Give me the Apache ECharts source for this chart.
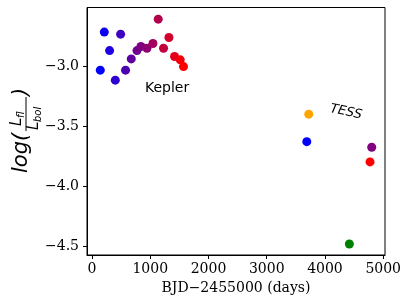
<!DOCTYPE html>
<html>
<head>
<meta charset="utf-8">
<script src="https://cdn.jsdelivr.net/npm/echarts@6/dist/echarts.min.js"></script>
<style>html,body{margin:0;padding:0;background:#fff}#c{width:407px;height:305px}</style>
</head>
<body>
<div id="c"></div>
<script>
// Kepler epochs (BJD-2455000) and log(Lfl/Lbol)
const keplerDays = [142, 211, 302, 400, 491, 576, 674, 772, 840, 943, 1046, 1137, 1228, 1321, 1417, 1515, 1571];
const keplerLog  = [-3.036, -2.719, -2.873, -3.119, -2.736, -3.036, -2.942, -2.873, -2.839, -2.853, -2.814, -2.611, -2.853, -2.764, -2.922, -2.950, -3.006];
// TESS points
const tessDays   = [3722, 3688, 4803, 4774, 4419];
const tessLog    = [-3.402, -3.631, -3.678, -3.800, -4.483];
const tessColors = ['#ffa500', '#0000ff', '#800080', '#ff0000', '#008000'];
const xTicks = [0, 1000, 2000, 3000, 4000, 5000];
const yTicks = [-4.5, -4.0, -3.5, -3.0];

const tmin = Math.min(...keplerDays), tmax = Math.max(...keplerDays);
function grad(t){
  const f = (t - tmin) / (tmax - tmin);
  const r = Math.round(255 * f), b = Math.round(255 * (1 - f));
  return 'rgb(' + r + ',0,' + b + ')';
}
const keplerData = keplerDays.map((d, i) => ({value: [d, keplerLog[i]], itemStyle: {color: grad(d)}}));
const tessData = tessDays.map((d, i) => ({value: [d, tessLog[i]], itemStyle: {color: tessColors[i]}}));

const chart = echarts.init(document.getElementById('c'), null, {renderer: 'canvas'});
const serif = 'DejaVu Serif';
const sans = 'DejaVu Sans';
chart.setOption({
  animation: false,
  grid: {left: 87, right: 22, top: 7.5, bottom: 50, show: true, borderColor: '#000', borderWidth: 1},
  xAxis: {
    type: 'value', min: -86, max: 5031,
    name: 'BJD\u22122455000 (days)', nameLocation: 'middle', nameGap: 24,
    nameTextStyle: {fontFamily: serif, fontSize: 14, color: '#000'},
    axisLine: {show: true, onZero: false, lineStyle: {color: '#000'}},
    axisTick: {show: true, length: 4, customValues: xTicks, lineStyle: {color: '#000'}},
    axisLabel: {customValues: xTicks, margin: 7, fontFamily: serif, fontSize: 14, color: '#000',
      formatter: v => String(v)},
    splitLine: {show: false}
  },
  yAxis: {
    type: 'value', min: -4.575, max: -2.514,
    axisLine: {show: true, onZero: false, lineStyle: {color: '#000'}},
    axisTick: {show: true, length: 4, customValues: yTicks, lineStyle: {color: '#000'}},
    axisLabel: {customValues: yTicks, margin: 8, fontFamily: serif, fontSize: 14, color: '#000',
      formatter: v => (v < 0 ? '\u2212' : '') + Math.abs(v).toFixed(1)},
    splitLine: {show: false}
  },
  series: [
    {type: 'scatter', symbolSize: 9, itemStyle: {opacity: 1}, data: keplerData},
    {type: 'scatter', symbolSize: 9, itemStyle: {opacity: 1}, data: tessData}
  ],
  graphic: [
    {type: 'text', left: 145, top: 81, style: {text: 'Kepler', fontFamily: sans, fontSize: 14, fill: '#000'}},
    {type: 'text', x: 346, y: 112, rotation: -12 * Math.PI / 180,
      style: {text: 'TESS', fontFamily: sans, fontStyle: 'italic', fontSize: 13, fill: '#000', align: 'center', verticalAlign: 'middle'}},
    {type: 'group', x: 22, y: 173, rotation: Math.PI / 2, children: [
      {type: 'text', x: 0, y: 0, style: {text: 'log(', fontFamily: sans, fontStyle: 'italic', fontSize: 21, fill: '#000', verticalAlign: 'middle'}},
      {type: 'text', x: 47, y: -5, style: {text: 'L', fontFamily: sans, fontStyle: 'italic', fontSize: 15, fill: '#000', verticalAlign: 'middle'}},
      {type: 'text', x: 55, y: -1, style: {text: 'fl', fontFamily: sans, fontStyle: 'italic', fontSize: 10, fill: '#000', verticalAlign: 'middle'}},
      {type: 'line', shape: {x1: 42, y1: 4, x2: 76, y2: 4}, style: {stroke: '#000', lineWidth: 1}},
      {type: 'text', x: 43, y: 12, style: {text: 'L', fontFamily: sans, fontStyle: 'italic', fontSize: 15, fill: '#000', verticalAlign: 'middle'}},
      {type: 'text', x: 51, y: 16, style: {text: 'bol', fontFamily: sans, fontStyle: 'italic', fontSize: 10, fill: '#000', verticalAlign: 'middle'}},
      {type: 'text', x: 77, y: 0, style: {text: ')', fontFamily: sans, fontStyle: 'italic', fontSize: 21, fill: '#000', verticalAlign: 'middle'}}
    ]}
  ]
});
</script>
</body>
</html>
